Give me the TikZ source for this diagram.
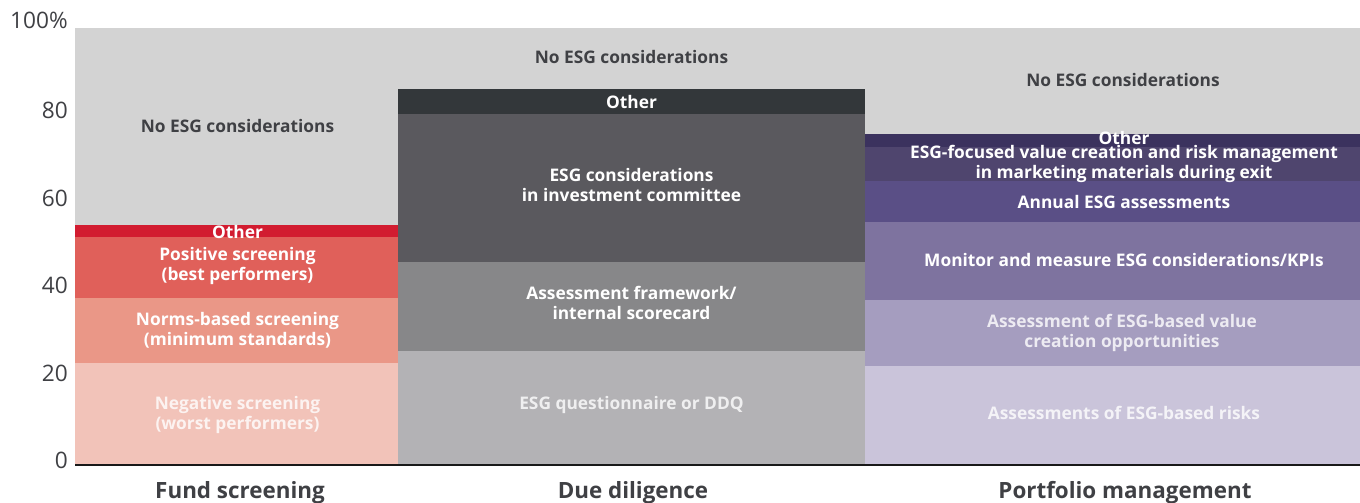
\documentclass[tikz,border=0pt]{standalone}
\usepackage{fontspec}
\setmainfont{Open Sans}
\usetikzlibrary{positioning}
\definecolor{bggrey}{HTML}{D3D3D3}
\definecolor{darktext}{HTML}{3F4044}
\definecolor{fsother}{HTML}{D21C30}
\definecolor{fspos}{HTML}{E0605A}
\definecolor{fsnorm}{HTML}{EA9787}
\definecolor{fsneg}{HTML}{F2C3B9}
\definecolor{ddother}{HTML}{33373A}
\definecolor{ddcomm}{HTML}{5A595E}
\definecolor{ddframe}{HTML}{878789}
\definecolor{ddquest}{HTML}{B3B2B5}
\definecolor{pmother}{HTML}{3B325E}
\definecolor{pmfocus}{HTML}{4F456E}
\definecolor{pmannual}{HTML}{5A4F86}
\definecolor{pmmonitor}{HTML}{7E739F}
\definecolor{pmvalue}{HTML}{A59DBF}
\definecolor{pmrisk}{HTML}{CAC4DA}

\begin{document}
\begin{tikzpicture}[x=0.75pt, y=3.2775pt,
    lbl/.style={font=\bfseries\fontsize{13}{15}\selectfont, text=white, align=center, inner sep=0pt},
    pale/.style={lbl, text opacity=0.8},
    none/.style={lbl, text=darktext},
    tick/.style={font=\fontsize{17}{19}\selectfont, text=darktext, anchor=mid east, inner sep=0pt},
    cat/.style={font=\bfseries\fontsize{16.8}{19}\selectfont, text=darktext, anchor=base, inner sep=0pt}]
    \useasboundingbox (0,-8.467) rectangle (1360,106.41);
    \fill[bggrey] (75,0) rectangle (1360,100);

    \fill[fsneg] (75,0) rectangle (398,23.3);
    \fill[fsnorm] (75,23.3) rectangle (398,38.2);
    \fill[fspos] (75,38.2) rectangle (398,52.2);
    \fill[fsother] (75,52.2) rectangle (398,54.9);

    \fill[ddquest] (398,0) rectangle (865,26.1);
    \fill[ddframe] (398,26.1) rectangle (865,46.5);
    \fill[ddcomm] (398,46.5) rectangle (865,80.3);
    \fill[ddother] (398,80.3) rectangle (865,86.0);

    \fill[pmrisk] (865,0) rectangle (1360,22.7);
    \fill[pmvalue] (865,22.7) rectangle (1360,37.8);
    \fill[pmmonitor] (865,37.8) rectangle (1360,55.6);
    \fill[pmannual] (865,55.6) rectangle (1360,65.0);
    \fill[pmfocus] (865,65.0) rectangle (1360,72.8);
    \fill[pmother] (865,72.8) rectangle (1360,75.7);

    \node[none] (fsnone) at (237.5,77.6) {No ESG considerations};
    \node[lbl] (fsoth) at (237.5,53.4) {Other};
    \node[lbl] (fspositive) at (237.5,45.6) {Positive screening\\(best performers)};
    \node[lbl] (fsnorms) at (237.5,30.9) {Norms-based screening\\(minimum standards)};
    \node[pale] (fsnegative) at (237.5,11.5) {Negative screening\\(worst performers)};

    \node[none] (ddnone) at (631.5,93.4) {No ESG considerations};
    \node[lbl] (ddoth) at (631.5,83.1) {Other};
    \node[lbl] (ddcommittee) at (631.5,64.0) {ESG considerations\\in investment committee};
    \node[lbl] (ddscore) at (631.5,37.0) {Assessment framework/\\internal scorecard};
    \node[pale] (ddquestion) at (631.5,13.7) {ESG questionnaire or DDQ};

    \node[none] (pmnone) at (1123,88.1) {No ESG considerations};
    \node[lbl] (pmoth) at (1124,74.9) {Other};
    \node[lbl] (pmexit) at (1124,68.9) {ESG-focused value creation and risk management\\in marketing materials during exit};
    \node[lbl] (pmannualtxt) at (1124,60.2) {Annual ESG assessments};
    \node[lbl] (pmkpi) at (1124,47.0) {Monitor and measure ESG considerations/KPIs};
    \node[pale] (pmopp) at (1122,30.3) {Assessment of ESG-based value\\creation opportunities};
    \node[pale] (pmrisks) at (1124,11.9) {Assessments of ESG-based risks};

    \coordinate (axl) at (75,0);
    \coordinate (axr) at (1360,0);
    \draw[line width=1.5pt, black!90] (axl) -- (axr);

    \node[tick] (t0) at (68,0) {0};
    \node[tick] (t20) at (68,20) {20};
    \node[tick] (t40) at (68,40) {40};
    \node[tick] (t60) at (68,60) {60};
    \node[tick] (t80) at (68,80) {80};
    \node[tick] (t100) at (68,100.6) {100\%};

    \node[cat] (catfs) at (240,-7.6) {Fund screening};
    \node[cat] (catdd) at (633,-7.6) {Due diligence};
    \node[cat] (catpm) at (1125,-7.6) {Portfolio management};
\end{tikzpicture}
\end{document}
